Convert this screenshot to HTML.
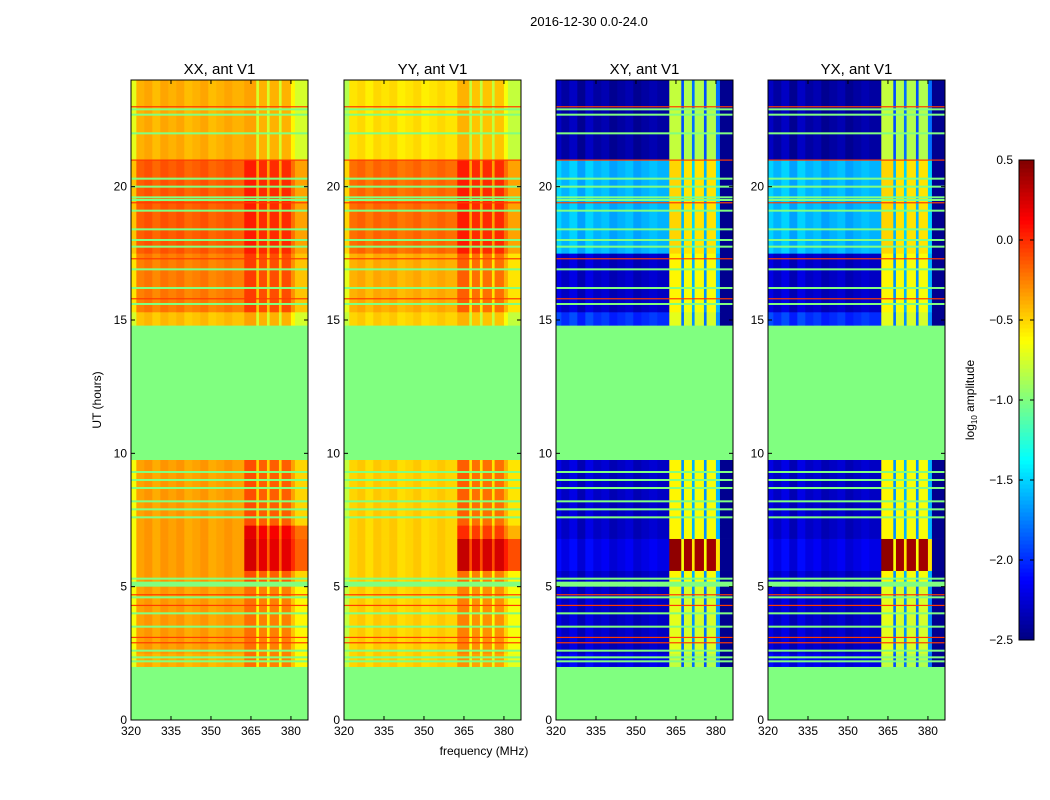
<!DOCTYPE html>
<html><head><meta charset="utf-8"><style>
body{margin:0;background:#fff;}
svg{display:block;font-family:"Liberation Sans",sans-serif;}
</style></head><body>
<svg id="fig" width="1050" height="800">
<rect width="1050" height="800" fill="#fff"/>
<text x="589" y="26" font-size="13" text-anchor="middle">2016-12-30 0.0-24.0</text>
<text x="484" y="755" font-size="12" text-anchor="middle">frequency (MHz)</text>
<text transform="translate(101,400) rotate(-90)" font-size="12" text-anchor="middle">UT (hours)</text>
<text transform="translate(974,400) rotate(-90)" font-size="12" text-anchor="middle">log<tspan font-size="8" dy="3">10</tspan><tspan dy="-3"> amplitude</tspan></text>
<g id="panels"></g>
<g id="cbar"></g>
</svg>
<script>
// ---- data ----
const panelTitles = ["XX, ant V1","YY, ant V1","XY, ant V1","YX, ant V1"];
const xTicks = [320,335,350,365,380];
const yTicks = [0,5,10,15,20];
const cbTicks = [-2.5,-2.0,-1.5,-1.0,-0.5,0.0,0.5];
const freqEdges = [320,322,325,328,331,334,337,340,343,346,349,352,355,358,362.5,367,368,371,372,375.5,376.5,380,381.5,386.4];
const colOffPar = [-0.3,0,0.04,-0.03,0.04,0,0.04,-0.03,0,0.04,-0.03,0,0.04,0,0.1,-0.3,0.05,-0.3,0.05,-0.3,0.05,-0.15,-0.3];
const colOffCross = [0.1,0,0.1,-0.05,0.1,0,0.05,-0.05,0,0.05,-0.05,0,0.05,0,0.1,-1.0,0.05,-0.9,0.05,-1.0,0.05,-0.9,-9];
const hourEdges = [0,2,2.5,5.0,5.2,5.6,6.8,7.3,9.75,14.8,15.3,17.5,21,24];
const bandXX_L = [null,-0.4,-0.35,null,-0.35,-0.35,-0.35,-0.35,null,-0.45,-0.25,-0.15,-0.4];
const bandXX_R = [null,-0.3,-0.3,null,-0.2,0.15,0.1,-0.2,null,-0.45,-0.15,-0.05,-0.45];
const bandYY_L = [null,-0.5,-0.5,null,-0.5,-0.5,-0.5,-0.5,null,-0.5,-0.4,-0.2,-0.55];
const bandYY_R = [null,-0.4,-0.35,null,-0.3,0.2,-0.1,-0.25,null,-0.5,-0.25,-0.05,-0.5];
const bandX_L = [null,-2.2,-2.3,null,-2.3,-2.2,-2.3,-2.3,null,-2.0,-2.3,-1.6,-2.4];
const bandX_R = [null,-0.9,-0.8,null,-0.7,0.35,-0.7,-0.7,null,-0.8,-0.7,-0.6,-0.9];
const flagLines = [2.2,2.35,2.6,3.5,4.0,4.6,5.3,7.6,7.9,8.2,8.7,9.0,9.3,15.6,16.2,16.9,17.75,18.0,18.4,19.1,19.5,19.6,20.0,20.3,22.0,22.7,22.9];
const redLines = [2.9,3.1,4.3,4.7,15.8,17.3,19.4,21.0,23.0];

// ---- layout ----
const panelX = [131,344,556,768], PW=177, PT=80, PB=720;
const fmin=320, fmax=386.4, hmin=0, hmax=24;
const NS="http://www.w3.org/2000/svg";
function el(t,a,p){const e=document.createElementNS(NS,t);for(const k in a)e.setAttribute(k,a[k]);p.appendChild(e);return e;}
function jet(v){let t=(v+2.5)/3;t=Math.max(0,Math.min(1,t));
 const f=x=>Math.max(0,Math.min(1,1.5-Math.abs(4*t-x)));
 return `rgb(${Math.round(255*f(3))},${Math.round(255*f(2))},${Math.round(255*f(1))})`;}
const G=document.getElementById('panels');
for(let p=0;p<4;p++){
 const x0=panelX[p];
 const sx=f=>x0+(f-fmin)/(fmax-fmin)*PW;
 const sy=h=>PB-(h-hmin)/(hmax-hmin)*(PB-PT);
 const g=el('g',{},G);
 
 
 el('rect',{x:x0,y:PT,width:PW,height:PB-PT,fill:jet(-1.0)},g);
 const L=p==0?bandXX_L:p==1?bandYY_L:bandX_L, R=p==0?bandXX_R:p==1?bandYY_R:bandX_R;
 const off=p<2?colOffPar:colOffCross;
 for(let b=0;b<hourEdges.length-1;b++){
  if(L[b]===null)continue;
  for(let c=0;c<freqEdges.length-1;c++){
   let v=(c<14?L[b]:R[b])+off[c];
   if(off[c]<-5)v=-2.45;
   const r=el('rect',{x:sx(freqEdges[c]),y:sy(hourEdges[b+1]),width:sx(freqEdges[c+1])-sx(freqEdges[c])+0.3,height:sy(hourEdges[b])-sy(hourEdges[b+1])+0.3,fill:jet(v)},g);
   
   
  }
 }
 flagLines.forEach(h=>{const r=el('rect',{x:x0,y:sy(h)-1,width:PW,height:2,fill:jet(-1.0)},g);
  });
 redLines.forEach(h=>{const r=el('rect',{x:x0,y:sy(h)-0.5,width:PW,height:1.2,fill:jet(-0.05)},g);
  });
 el('rect',{x:x0,y:PT,width:PW,height:PB-PT,fill:'none',stroke:'#000','stroke-width':1},g);
 const t=el('text',{x:x0+PW/2,y:74,'font-size':15,'text-anchor':'middle'},g);t.textContent=panelTitles[p];
 
 xTicks.forEach(f=>{const x=sx(f);
  el('line',{x1:x,x2:x,y1:PB,y2:PB-4,stroke:'#000'},g);el('line',{x1:x,x2:x,y1:PT,y2:PT+4,stroke:'#000'},g);
  const l=el('text',{x:x,y:PB+15,'font-size':12,'text-anchor':'middle'},g);l.textContent=f;
  });
 yTicks.forEach(h=>{const y=sy(h);
  el('line',{x1:x0,x2:x0+4,y1:y,y2:y,stroke:'#000'},g);el('line',{x1:x0+PW,x2:x0+PW-4,y1:y,y2:y,stroke:'#000'},g);
  const l=el('text',{x:x0-4,y:y+4,'font-size':12,'text-anchor':'end'},g);l.textContent=h;
  });
}
// colorbar
const C=document.getElementById('cbar');


const cx=1019,cw=15,ct=160,cb=640;
for(let i=0;i<120;i++){const v=-2.5+3*(i+0.5)/120;
 el('rect',{x:cx,y:cb-(i+1)*(cb-ct)/120,width:cw,height:(cb-ct)/120+0.5,fill:jet(v)},C);}
el('rect',{x:cx,y:ct,width:cw,height:cb-ct,fill:'none',stroke:'#000'},C);
cbTicks.forEach(v=>{const y=cb-(v+2.5)/3*(cb-ct);
 el('line',{x1:cx,x2:cx+4,y1:y,y2:y,stroke:'#000'},C);el('line',{x1:cx+cw,x2:cx+cw-4,y1:y,y2:y,stroke:'#000'},C);
 const l=el('text',{x:1013,y:y+4,'font-size':12,'text-anchor':'end'},C);l.textContent=(v<0?'\u2212':'')+Math.abs(v).toFixed(1);
 });
</script>
</body></html>
